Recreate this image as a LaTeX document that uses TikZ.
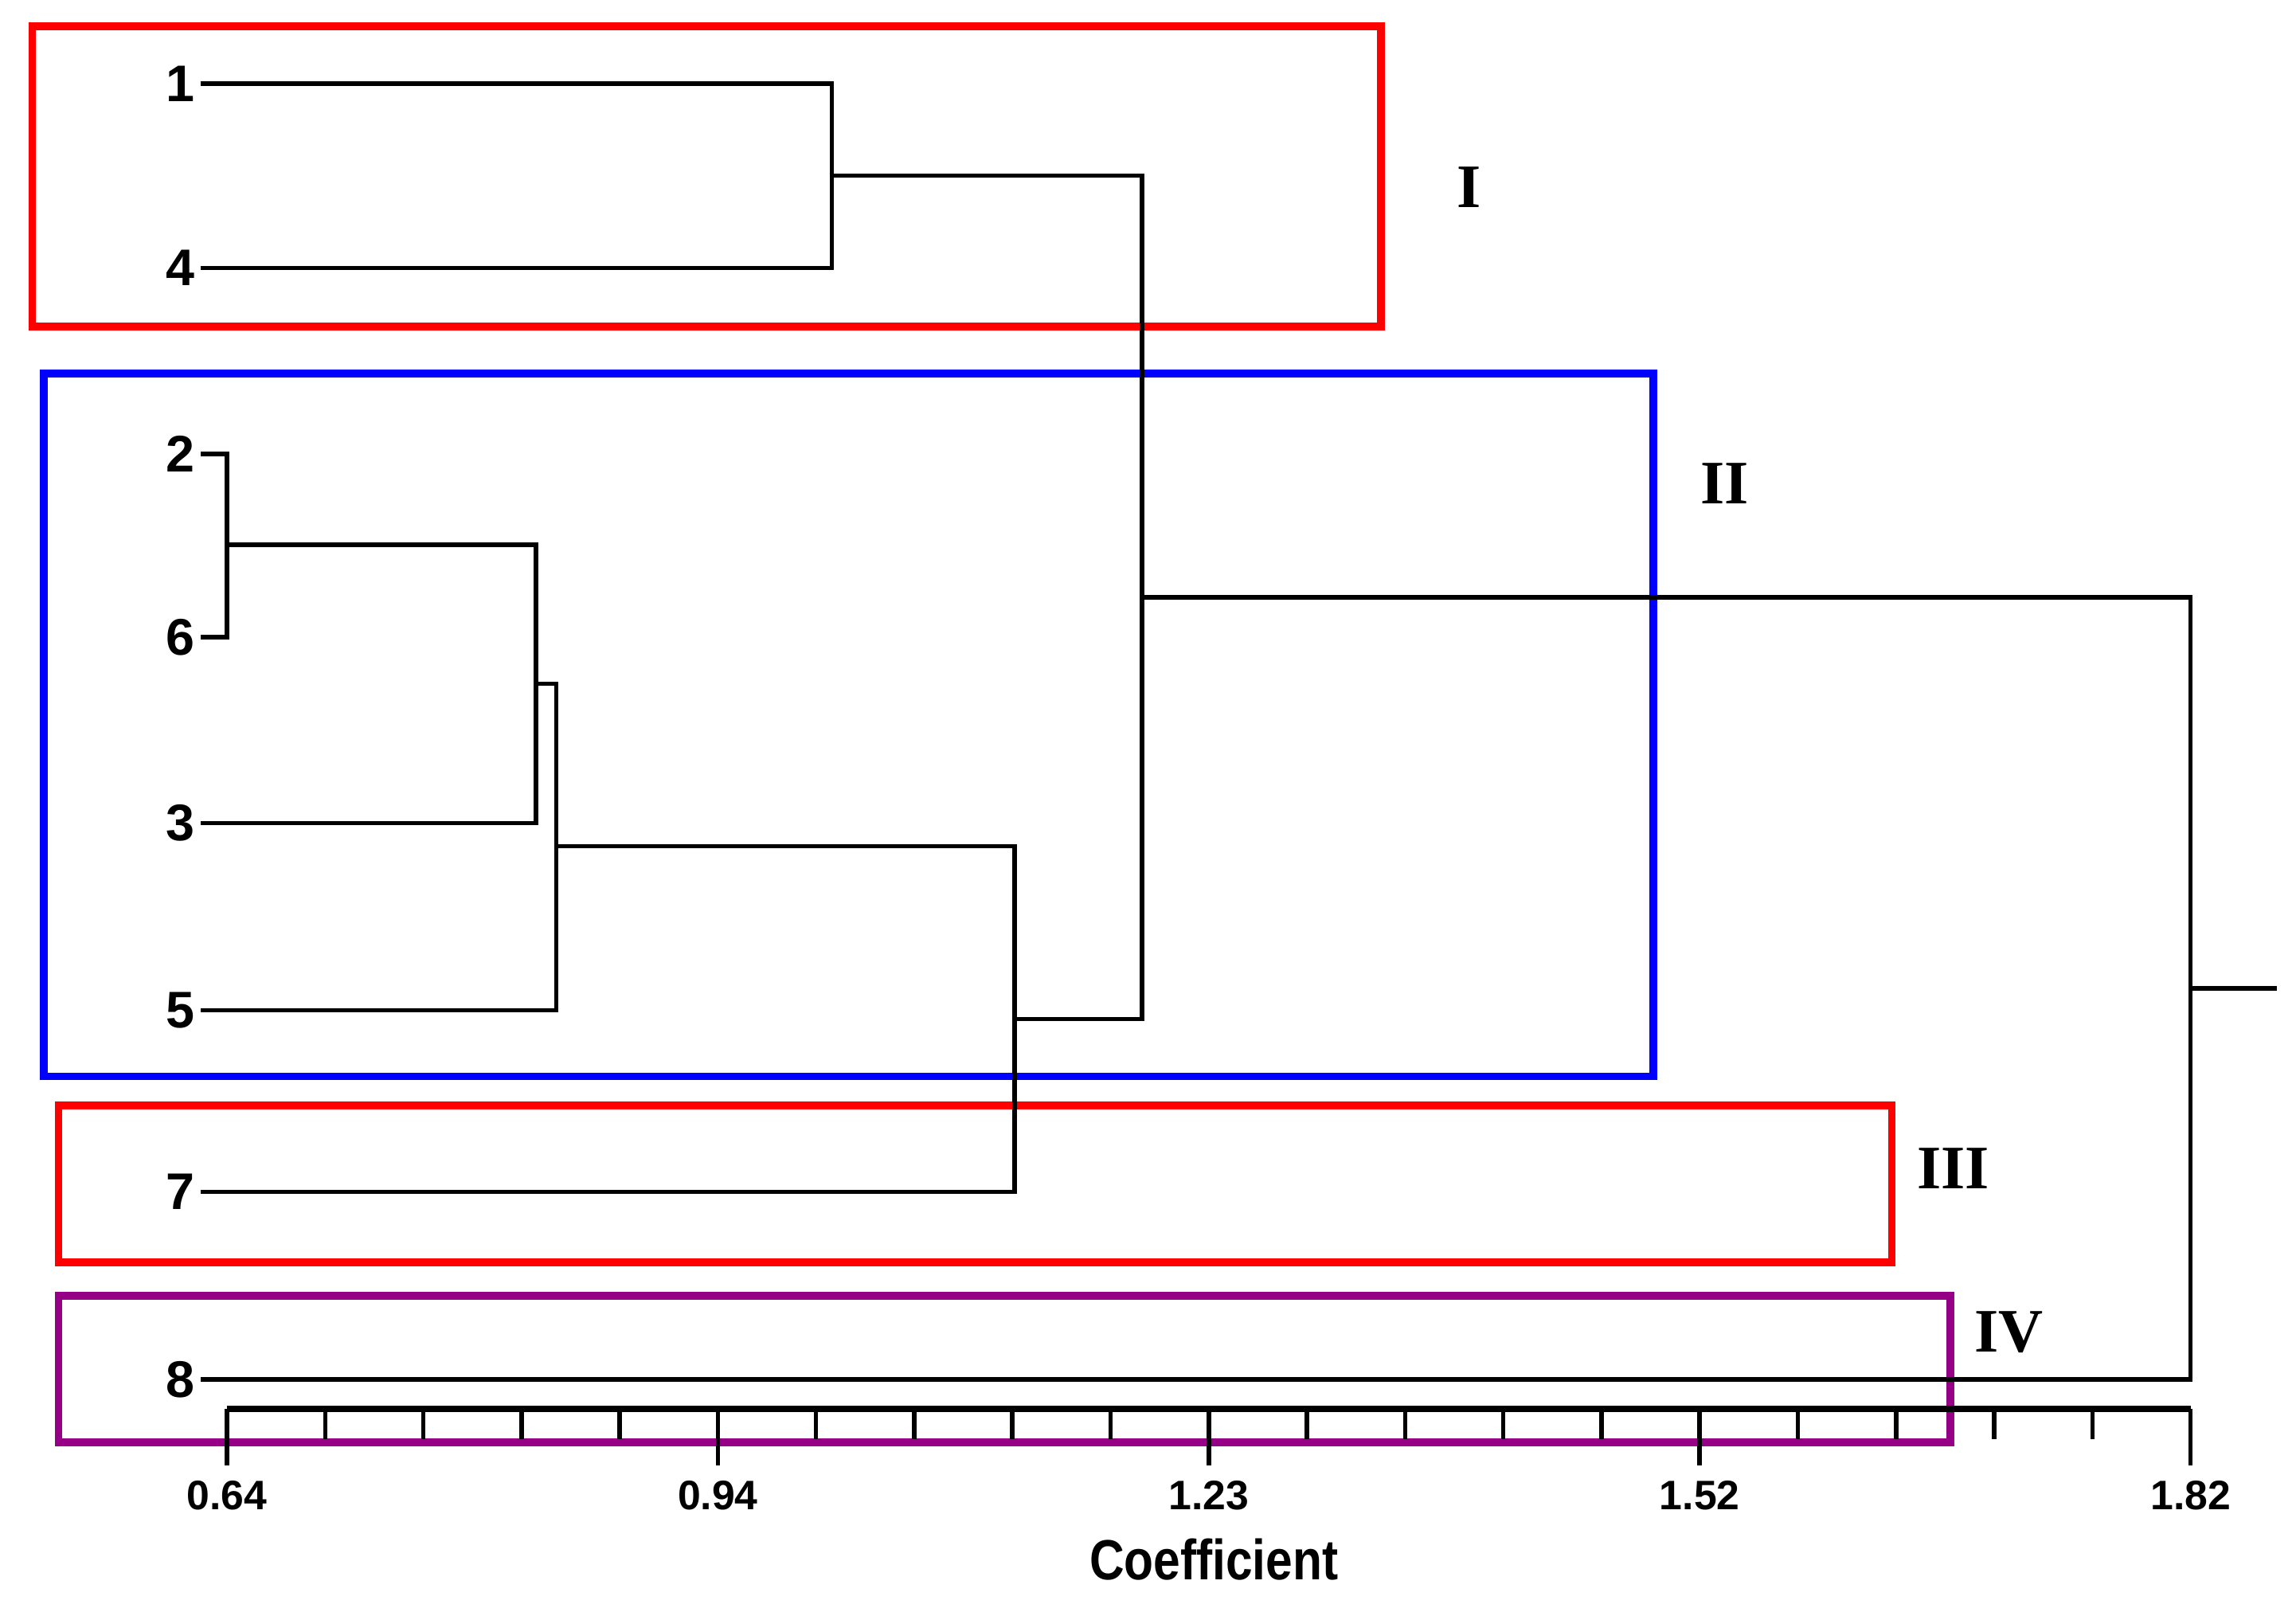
\documentclass[tikz,border=0pt]{standalone}
\usepackage{fontspec}
\setmainfont{Liberation Serif}
\setsansfont{Liberation Sans}
\definecolor{clpurple}{RGB}{150,0,135}

\begin{document}
\begin{tikzpicture}
  [x=0.01cm,y=-0.01cm,
   leaf/.style={anchor=east,inner sep=1pt,font=\sffamily\bfseries\fontsize{10}{12}\selectfont},
   branch/.style={line width=.85pt},
   group/.style={line width=1.5pt},
   grp/.style={font=\bfseries\fontsize{12}{14}\selectfont},
   ticklabel/.style={font=\sffamily\bfseries\fontsize{8}{10}\selectfont}]
  \useasboundingbox (0,0) rectangle (1568,1098);
  % groups
  \draw[group,red] (22,18) rectangle (943,223);
  \draw[group,blue] (30,255) rectangle (1129,735);
  \draw[group,red] (40,755) rectangle (1292,862);
  \draw[group,clpurple] (40,885) rectangle (1332,985);
  \node[grp] (g1) at (1003,128) {I};
  \node[grp] (g2) at (1178,330) {II};
  \node[grp] (g3) at (1334,798) {III};
  \node[grp] (g4) at (1372,910) {IV};
  % leaves
  \node[leaf] (l1) at (137,57) {1};
  \node[leaf] (l4) at (137,183) {4};
  \node[leaf] (l2) at (137,310) {2};
  \node[leaf] (l6) at (137,435) {6};
  \node[leaf] (l3) at (137,562) {3};
  \node[leaf] (l5) at (137,690) {5};
  \node[leaf] (l7) at (137,814) {7};
  \node[leaf] (l8) at (137,942) {8};
  % merges
  \coordinate (m14) at (568,120);
  \coordinate (m26) at (155,372);
  \coordinate (m3) at (366,467);
  \coordinate (m5) at (380,578);
  \coordinate (m7) at (693,696);
  \coordinate (ma) at (780,408);
  \coordinate (root) at (1496,675);
  \coordinate (tail) at (1555,675);
  \foreach \from/\to in {l1/m14,l4/m14,l2/m26,l6/m26,m26/m3,l3/m3,m3/m5,l5/m5,
                         m5/m7,l7/m7,m14/ma,m7/ma,ma/root,l8/root}
    \draw[branch] (\from) -| (\to);
  \draw[branch] (root) -- (tail);
  % axis
  \draw[line width=1.2pt] (155,962) -- (1496,962);
  \foreach \i in {0,...,20}
    \draw[branch] (155+\i*67.05,962) -- ++(0,21);
  \foreach \i/\v in {0/0.64,5/0.94,10/1.23,15/1.52,20/1.82} {
    \draw[branch] (155+\i*67.05,962) -- ++(0,39);
    \node[ticklabel] (t\i) at (155+\i*67.05,1021) {\v};
  }
  \node[font=\sffamily\bfseries\fontsize{11}{13}\selectfont,xscale=.85,transform shape] (coef) at (829,1065) {Coefficient};
\end{tikzpicture}
\end{document}
